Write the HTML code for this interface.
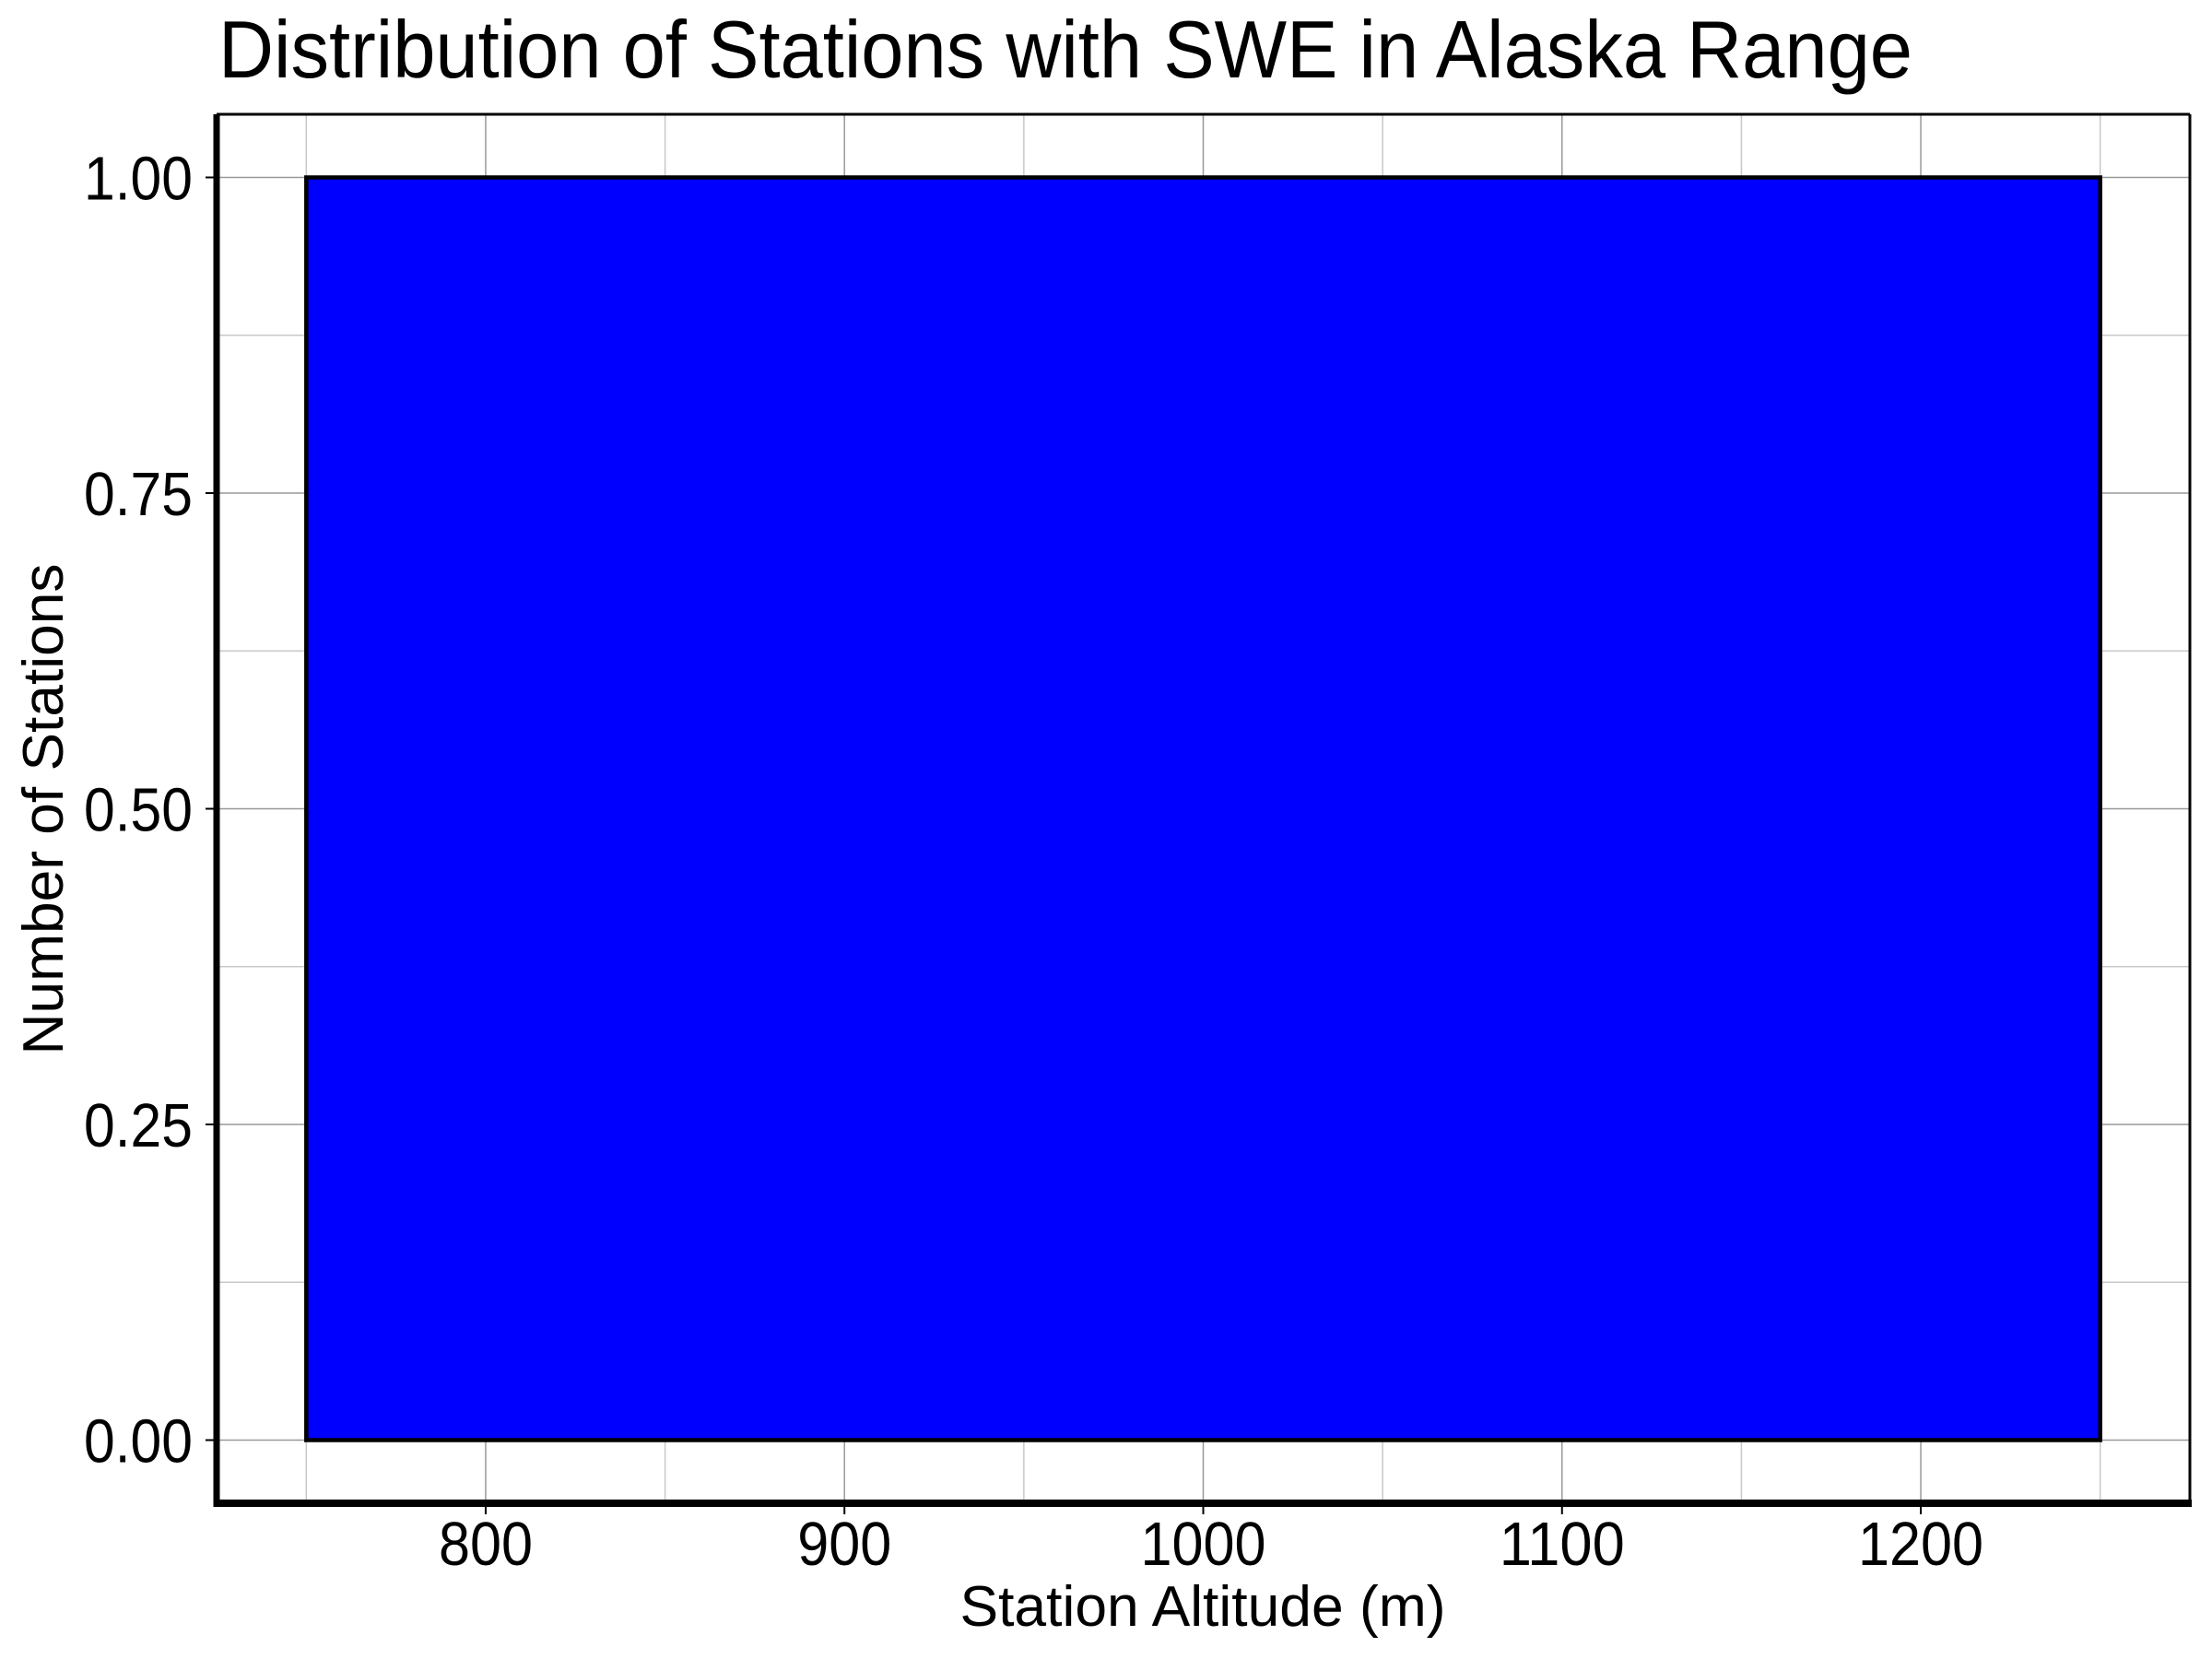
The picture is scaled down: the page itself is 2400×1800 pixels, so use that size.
<!DOCTYPE html>
<html><head><meta charset="utf-8"><style>html,body{margin:0;padding:0;background:#fff}svg{display:block}</style></head>
<body>
<svg id="chart" width="2400" height="1800" viewBox="0 0 2400 1800" xmlns="http://www.w3.org/2000/svg" font-family="Liberation Sans, Arial, sans-serif">
<rect width="2400" height="1800" fill="#fff"/>
<g id="grid"></g>
<g id="bars"></g>
<g id="axes"></g>
<text x="237" y="84" font-size="88" textLength="1838" lengthAdjust="spacingAndGlyphs">Distribution of Stations with SWE in Alaska Range</text>
<text x="1305" y="1764" font-size="62" text-anchor="middle" textLength="527" lengthAdjust="spacingAndGlyphs">Station Altitude (m)</text>
<text transform="translate(68,878) rotate(-90)" font-size="62" text-anchor="middle" textLength="533" lengthAdjust="spacingAndGlyphs">Number of Stations</text>
</svg>
<script>
const binStarts = [750];
const binEnds = [1250];
const counts = [1];
const xTicks = [800, 900, 1000, 1100, 1200];
const xMinorTicks = [750, 850, 950, 1050, 1150, 1250];
const yTicks = [0, 0.25, 0.5, 0.75, 1.0];
const yTickLabels = ['0.00', '0.25', '0.50', '0.75', '1.00'];
const yMinorTicks = [0.125, 0.375, 0.625, 0.875];

const L = 235, R = 2376, T = 124, B = 1631;
const xMin = 725, xMax = 1275, yMin = -0.05, yMax = 1.05;
const xs = v => L + (v - xMin) / (xMax - xMin) * (R - L);
const ys = v => B - (v - yMin) / (yMax - yMin) * (B - T);
const NS = 'http://www.w3.org/2000/svg';
function mk(tag, attrs, parent) {
  const e = document.createElementNS(NS, tag);
  for (const k in attrs) e.setAttribute(k, attrs[k]);
  parent.appendChild(e);
  return e;
}
const grid = document.getElementById('grid');
const bars = document.getElementById('bars');
const axes = document.getElementById('axes');

xMinorTicks.forEach(v => {
  const l = mk('line', {x1: xs(v), x2: xs(v), y1: T, y2: B, stroke: '#c8c8c8', 'stroke-width': 1.5}, grid);
  
  
});
yMinorTicks.forEach(v => {
  const l = mk('line', {x1: L, x2: R, y1: ys(v), y2: ys(v), stroke: '#c8c8c8', 'stroke-width': 1.5}, grid);
  
  
});
xTicks.forEach(v => {
  const l = mk('line', {x1: xs(v), x2: xs(v), y1: T, y2: B, stroke: '#999', 'stroke-width': 1.5}, grid);
  
  
});
yTicks.forEach(v => {
  const l = mk('line', {x1: L, x2: R, y1: ys(v), y2: ys(v), stroke: '#999', 'stroke-width': 1.5}, grid);
  
  
});

counts.forEach((c, i) => {
  const x0 = xs(binStarts[i]), x1 = xs(binEnds[i]);
  const y0 = ys(c), y1 = ys(0);
  const r = mk('rect', {x: x0, y: y0, width: x1 - x0, height: y1 - y0, fill: '#0000ff', stroke: '#000', 'stroke-width': 4.5}, bars);
  
  
});

let s;
s = mk('line', {x1: L, x2: R, y1: T, y2: T, stroke: '#000', 'stroke-width': 3}, axes);
 
s = mk('line', {x1: R, x2: R, y1: T, y2: B, stroke: '#000', 'stroke-width': 3}, axes);
 
s = mk('line', {x1: L, x2: L, y1: T, y2: B + 4, stroke: '#000', 'stroke-width': 7}, axes);
 
s = mk('line', {x1: L - 3, x2: R + 2, y1: B, y2: B, stroke: '#000', 'stroke-width': 8}, axes);
 

xTicks.forEach(v => {
  const t = mk('line', {x1: xs(v), x2: xs(v), y1: B, y2: B + 12, stroke: '#000', 'stroke-width': 2}, axes);
  
  
  const str = String(v);
  const lb = mk('text', {x: xs(v), y: 1698, 'font-size': 67, 'text-anchor': 'middle', textLength: 34 * str.length, lengthAdjust: 'spacingAndGlyphs'}, axes);
  lb.textContent = str;
  
  
});
yTicks.forEach((v, i) => {
  const t = mk('line', {x1: L - 12, x2: L, y1: ys(v), y2: ys(v), stroke: '#000', 'stroke-width': 2}, axes);
  
  
  const lb = mk('text', {x: 209, y: ys(v) + 24, 'font-size': 67, 'text-anchor': 'end', textLength: 118, lengthAdjust: 'spacingAndGlyphs'}, axes);
  lb.textContent = yTickLabels[i];
  
  
});
</script>
</body></html>
